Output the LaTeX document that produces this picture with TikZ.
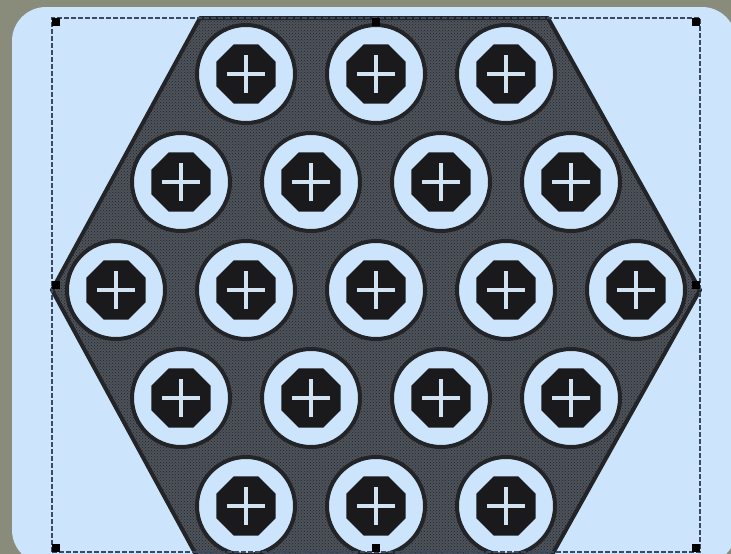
\documentclass[tikz,border=0pt]{standalone}
\usetikzlibrary{shapes.geometric,patterns}
\definecolor{frame}{RGB}{137,140,122}
\definecolor{paleblue}{RGB}{204,229,252}
\definecolor{hexgrey}{RGB}{78,82,90}
\definecolor{rim}{RGB}{34,36,40}
\definecolor{headblack}{RGB}{26,26,29}
\definecolor{slotblue}{RGB}{210,228,244}
\definecolor{dashblue}{RGB}{58,74,96}

\begin{document}
\begin{tikzpicture}[x=1pt,y=-1pt,
  hexbody/.style={draw=rim,line width=4pt,line join=round,fill=hexgrey,postaction={pattern=crosshatch dots,pattern color=rim}},
  ring/.style={circle,draw=rim,line width=4pt,fill=paleblue,minimum size=98pt,inner sep=0pt},
  head/.style={regular polygon,regular polygon sides=8,fill=headblack,minimum size=64pt,inner sep=0pt},
  slot/.style={draw=slotblue,line width=3.5pt},
  selbox/.style={rectangle,draw=dashblue,dash pattern=on 5pt off 2pt,line width=1.2pt,minimum width=648pt,minimum height=534pt,inner sep=0pt},
  handle/.style={rectangle,fill=black,minimum size=8pt,inner sep=0pt}]
\useasboundingbox (0,0) rectangle (731,554);
\clip (0,0) rectangle (731,554);
\fill[frame] (0,0) rectangle (731,554);
\fill[paleblue,rounded corners=34pt] (12,7) rectangle (736,564);

% the plate
\draw[hexbody] (52,290) -- (200,18) -- (548,18) -- (700,290) -- (548,562) -- (200,562) -- cycle;

% screws, row by row
\foreach \y/\n/\x in {74/3/246, 182/4/181, 290/5/116, 398/4/181, 506/3/246} {
  \foreach \k in {1,...,\n} {
    \node[ring] (r\y-\k) at ({\x+130*(\k-1)},\y) {};
    \node[head] (h\y-\k) at (r\y-\k) {};
    \draw[slot] ([xshift=-19pt]h\y-\k.center) -- ([xshift=19pt]h\y-\k.center);
    \draw[slot] ([yshift=-19pt]h\y-\k.center) -- ([yshift=19pt]h\y-\k.center);
  }
}

% selection frame
\node[selbox] (sel) at (376,285) {};
\foreach \a/\m in {north west/nw, north/n, north east/ne, west/w, east/e, south west/sw, south/s, south east/se}
  \node[handle,anchor=\a] (hd-\m) at (sel.\a) {};
\end{tikzpicture}
\end{document}
